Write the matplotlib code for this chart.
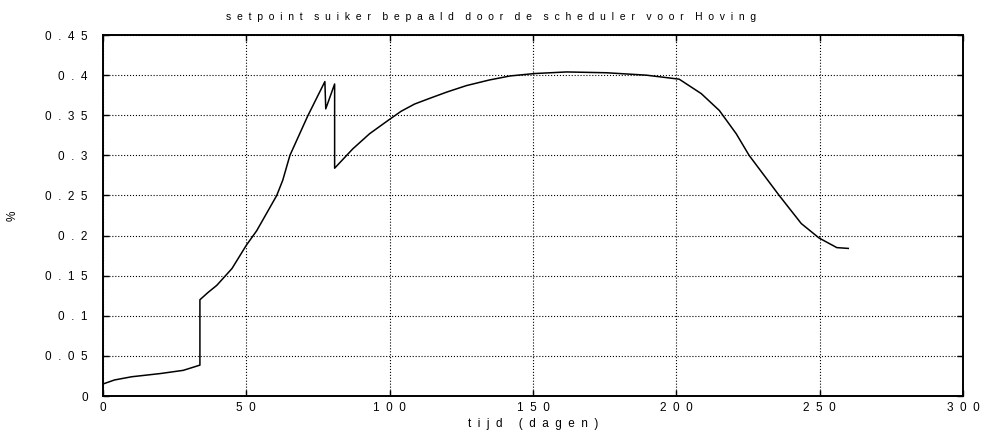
import matplotlib.pyplot as plt

# setpoint suiker (scheduler, Hoving)
dagen = [0, 4, 10, 20, 28, 33.8, 33.8, 36.6, 39.7, 45, 50, 53.6, 60.6, 62.7,
         65.2, 71.4, 77.4, 77.7, 80.8, 80.8, 87.1, 93, 100, 104, 108.7, 113.9,
         120, 126.8, 134.8, 142, 150.5, 161.7, 175.6, 189.5, 201, 208.7, 215,
         220.9, 225.4, 235.9, 243.6, 249.8, 256, 260]
suiker = [0.015, 0.02, 0.024, 0.028, 0.032, 0.0385, 0.12, 0.129, 0.138, 0.159,
          0.188, 0.206, 0.25, 0.269, 0.3, 0.349, 0.392, 0.358, 0.389, 0.284,
          0.308, 0.327, 0.345, 0.355, 0.364, 0.371, 0.379, 0.387, 0.394, 0.399,
          0.402, 0.404, 0.403, 0.4, 0.395, 0.377, 0.356, 0.327, 0.3, 0.25,
          0.215, 0.197, 0.185, 0.184]

xticks = [0, 50, 100, 150, 200, 250, 300]
yticks = [0, 0.05, 0.1, 0.15, 0.2, 0.25, 0.3, 0.35, 0.4, 0.45]
xticklabels = ['0', '50', '100', '150', '200', '250', '300']
yticklabels = ['0', '0.05', '0.1', '0.15', '0.2', '0.25', '0.3', '0.35', '0.4', '0.45']

title = 'setpoint suiker bepaald door de scheduler voor Hoving'
xlabel = 'tijd (dagen)'


def spaced(s, gap=2, wgap=5):
    # old printout look: wide letter spacing
    return (' ' * wgap).join((' ' * gap).join(w) for w in s.split(' '))


plt.rcParams['font.family'] = ['Liberation Sans', 'DejaVu Sans']

fig = plt.figure(figsize=(9.85, 4.37), dpi=100)
ax = fig.add_axes([0.1046, 0.0938, 0.873, 0.826])

ax.plot(dagen, suiker, color='black', linewidth=1.1)

ax.set_xlim(0, 300)
ax.set_ylim(0, 0.45)
ax.set_xticks(xticks)
ax.set_yticks(yticks)
ax.set_xticklabels([spaced(t) for t in xticklabels], fontsize=8.5)
ax.set_yticklabels([spaced(t) for t in yticklabels], fontsize=8.5)
ax.tick_params(direction='in', top=True, right=True, length=4, width=1)
ax.tick_params(axis='x', pad=4)
ax.tick_params(axis='y', pad=11)
ax.grid(True, linestyle=':', color='black', linewidth=0.8)

for s in ax.spines.values():
    s.set_linewidth(1.4)

ax.set_title(spaced(title, 2, 4), fontsize=7.5, pad=11, x=0.451)
ax.set_xlabel(spaced(xlabel), fontsize=8.5, labelpad=3)
ax.set_ylabel('%', fontsize=8.5)
ax.yaxis.set_label_coords(-0.098, 0.5)

fig.savefig('out.png', dpi=100)
